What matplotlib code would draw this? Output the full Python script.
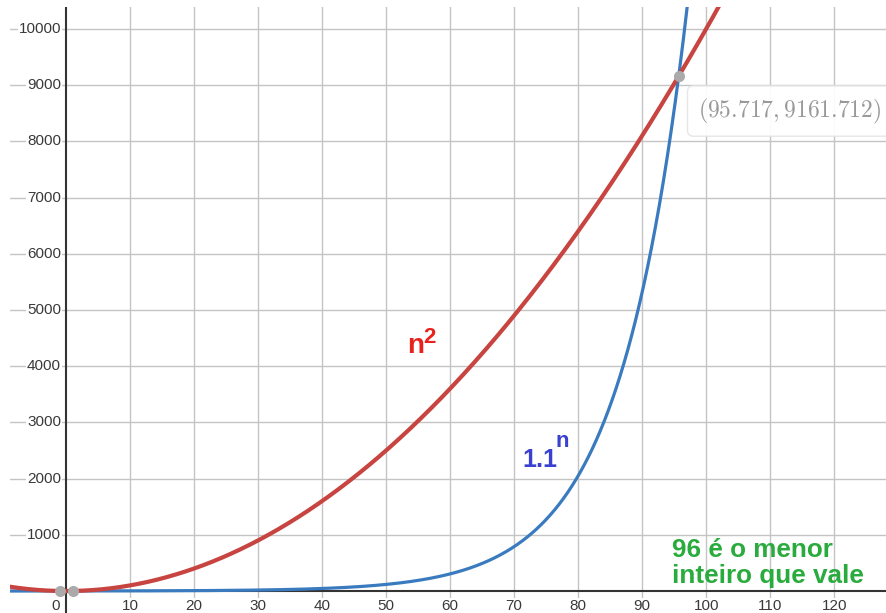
import numpy as np
import matplotlib
matplotlib.use("Agg")
import matplotlib.pyplot as plt

# ---- data ----
x_ticks = [10, 20, 30, 40, 50, 60, 70, 80, 90, 100, 110, 120]
y_ticks = [1000, 2000, 3000, 4000, 5000, 6000, 7000, 8000, 9000, 10000]
base = 1.1
power = 2
inter_x = [-0.955, 1.052, 95.717]
inter_y = [0.912, 1.106, 9161.712]
point_label = r"$(95.717, 9161.712)$"
note_lines = ["96 é o menor", "inteiro que vale"]

XMIN, XMAX = -8.75, 128.1
YMIN, YMAX = -391, 10391

plt.rcParams['font.family'] = ['Liberation Sans', 'DejaVu Sans']
plt.rcParams['mathtext.fontset'] = 'cm'

fig = plt.figure(figsize=(8.86, 6.13), dpi=100)
ax = fig.add_axes([10 / 886, 0, 876 / 886, 606 / 613])
ax.set_xlim(XMIN, XMAX)
ax.set_ylim(YMIN, YMAX)
for s in ax.spines.values():
    s.set_visible(False)
ax.set_xticks(x_ticks)
ax.set_yticks(y_ticks)
ax.tick_params(length=0, labelbottom=False, labelleft=False)
ax.grid(True, color='#c4c4c4', lw=1.0)
ax.set_axisbelow(True)

ax.axhline(0, color='#333333', lw=1.5, zorder=2)
ax.axvline(0, color='#333333', lw=1.5, zorder=2)

# tick labels
for yt in y_ticks:
    ax.annotate(str(yt), xy=(0, yt), xytext=(-5, 0), textcoords='offset pixels',
                ha='right', va='center', fontsize=11, color='#3a3a3a',
                bbox=dict(boxstyle='square,pad=0.05', fc='white', ec='none'), zorder=3)
for xt in x_ticks:
    ax.annotate(str(xt), xy=(xt, 0), xytext=(0, -8), textcoords='offset pixels',
                ha='center', va='top', fontsize=11, color='#3a3a3a',
                bbox=dict(boxstyle='square,pad=0.05', fc='white', ec='none'), zorder=3)
ax.annotate('0', xy=(0, 0), xytext=(-6, -8), textcoords='offset pixels',
            ha='right', va='top', fontsize=11, color='#3a3a3a', zorder=3)

# curves
n = np.linspace(XMIN, XMAX, 2000)
ax.plot(n, base ** n, color='#3a7bbf', lw=2.3, zorder=4, solid_capstyle='round')
ax.plot(n, n ** power, color='#c74440', lw=3.0, zorder=5, solid_capstyle='round')

# intersection points
ax.plot(inter_x, inter_y, 'o', color='#aaaaaa', markersize=8, zorder=6, mec='none')

# point label
ax.text(98.75, 8540, point_label, fontsize=17, color='#999999', ha='left', va='center',
        bbox=dict(boxstyle='round,pad=0.45,rounding_size=0.25', fc='white', ec='#e4e4e4',
                  lw=1, alpha=0.92),
        zorder=7)

# curve labels
ax.text(53.3, 4235, 'n', fontsize=20, fontweight='bold', color='#e8221c', ha='left', va='baseline')
ax.text(55.8, 4413, '2', fontsize=16, fontweight='bold', color='#e8221c', ha='left', va='baseline')
ax.text(71.25, 2206, '1.1', fontsize=18, fontweight='bold', color='#3a40cf', ha='left', va='baseline')
ax.text(76.4, 2562, 'n', fontsize=16, fontweight='bold', color='#3a40cf', ha='left', va='baseline')

# note
ax.text(94.7, 605, note_lines[0], fontsize=18.8, fontweight='bold', color='#2aab3d',
        ha='left', va='baseline', zorder=8)
ax.text(94.7, 142, note_lines[1], fontsize=18.8, fontweight='bold', color='#2aab3d',
        ha='left', va='baseline', zorder=8)

fig.savefig('out.png', dpi=100, facecolor='white')
